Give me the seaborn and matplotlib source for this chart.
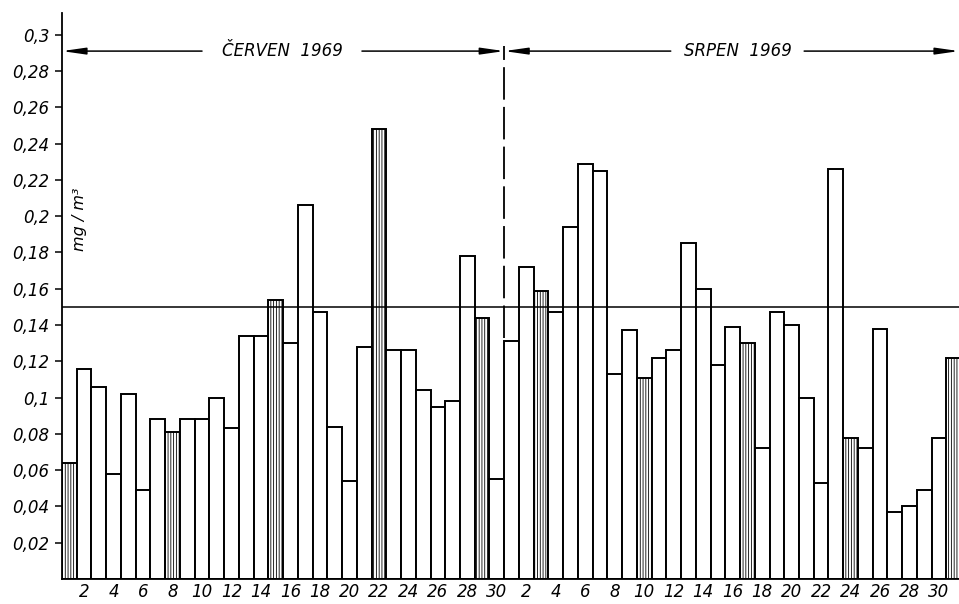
import numpy as np
import pandas as pd
import matplotlib.pyplot as plt
import seaborn as sns

# denní hodnoty (mg/m3), červen a srpen 1969
cerven = [0.064, 0.116, 0.106, 0.058, 0.102, 0.049, 0.088, 0.081, 0.088, 0.088,
          0.100, 0.083, 0.134, 0.134, 0.154, 0.130, 0.206, 0.147, 0.084, 0.054,
          0.128, 0.248, 0.126, 0.126, 0.104, 0.095, 0.098, 0.178, 0.144, 0.055]
srpen = [0.131, 0.172, 0.159, 0.147, 0.194, 0.229, 0.225, 0.113, 0.137, 0.111,
         0.122, 0.126, 0.185, 0.160, 0.118, 0.139, 0.130, 0.072, 0.147, 0.140,
         0.100, 0.053, 0.226, 0.078, 0.072, 0.138, 0.037, 0.040, 0.049, 0.078, 0.122]
# neděle - šrafované sloupce
nedele_cerven = [1, 8, 15, 22, 29]
nedele_srpen = [3, 10, 17, 24, 31]
limit = 0.15
y_ticks = [0.02, 0.04, 0.06, 0.08, 0.1, 0.12, 0.14, 0.16, 0.18, 0.2,
           0.22, 0.24, 0.26, 0.28, 0.3]
mesice = ["ČERVEN  1969", "SRPEN  1969"]

df = pd.DataFrame({
    "den": list(range(1, 31)) + list(range(1, 32)),
    "mesic": ["cerven"] * 30 + ["srpen"] * 31,
    "hodnota": cerven + srpen,
})
df["idx"] = range(len(df))
df["nedele"] = [(m == "cerven" and d in nedele_cerven) or (m == "srpen" and d in nedele_srpen)
                for m, d in zip(df["mesic"], df["den"])]

sns.set_style("white")
plt.rcParams["font.family"] = ["DejaVu Sans"]
plt.rcParams["font.style"] = "italic"
plt.rcParams["hatch.linewidth"] = 0.6
plt.rcParams["text.color"] = "black"
plt.rcParams["xtick.color"] = "black"
plt.rcParams["ytick.color"] = "black"
plt.rcParams["xtick.labelcolor"] = "black"
plt.rcParams["ytick.labelcolor"] = "black"

fig = plt.figure(figsize=(9.59, 6.04), dpi=100)
ax = fig.add_axes([62 / 959, 25 / 604, 897 / 959, 566 / 604])

sns.barplot(data=df, x="idx", y="hodnota", color="white", edgecolor="black",
            linewidth=1.4, width=1.0, saturation=1, ax=ax)

for patch, sun in zip(ax.patches, df["nedele"]):
    patch.set_facecolor("white")
    if sun:
        patch.set_hatch("||||||")

ax.set_xlim(-0.5, -0.5 + 897 / 14.74)
ax.set_ylim(0, 0.312)

# limitní hodnota
ax.axhline(limit, color="black", lw=1.1, zorder=5)

# hranice mezi měsíci
n1 = len(cerven)
ax.vlines(n1 - 0.5, srpen[0] + 0.002, 0.294, color="black", lw=1.3,
          linestyles=(0, (18, 4)), zorder=5)

# šipky s názvy měsíců
y_arr = 0.291
arrow = dict(arrowstyle="-|>,head_length=1.4,head_width=0.2", lw=1.1,
             color="black", shrinkA=0, shrinkB=0)
spans = [(-0.5, n1 - 0.5, 9.0, 19.85), (n1 - 0.5, ax.get_xlim()[1], 40.8, 49.85)]
for label, (a, b, g1, g2) in zip(mesice, spans):
    ax.annotate("", xy=(a, y_arr), xytext=(g1, y_arr), arrowprops=arrow, zorder=6)
    ax.annotate("", xy=(b, y_arr), xytext=(g2, y_arr), arrowprops=arrow, zorder=6)
    ax.text((g1 + g2) / 2, y_arr, label, ha="center", va="center", fontsize=12,
            fontstyle="italic", color="black")

ax.text(0.72, 0.198, "mg / m³", rotation=90, ha="center", va="center",
        fontsize=11.5, fontstyle="italic", color="black")

# osy
ax.set_yticks(y_ticks)
ax.set_yticklabels([f"{v:g}".replace(".", ",") for v in y_ticks], fontsize=12,
                   fontstyle="italic")
pos = [i for i, d in enumerate(df["den"]) if d % 2 == 0]
ax.set_xticks(pos)
ax.set_xticklabels([str(df["den"][i]) for i in pos], fontsize=12, fontstyle="italic")
ax.tick_params(axis="y", direction="out", length=5, width=1.1, left=True, pad=4)
ax.tick_params(axis="x", length=0, pad=3)
ax.set_xlabel("")
ax.set_ylabel("")

for s in ["top", "right"]:
    ax.spines[s].set_visible(False)
ax.spines["left"].set_linewidth(1.3)
ax.spines["bottom"].set_linewidth(1.3)
ax.spines["left"].set_color("black")
ax.spines["bottom"].set_color("black")

fig.savefig("out.png", dpi=100)
